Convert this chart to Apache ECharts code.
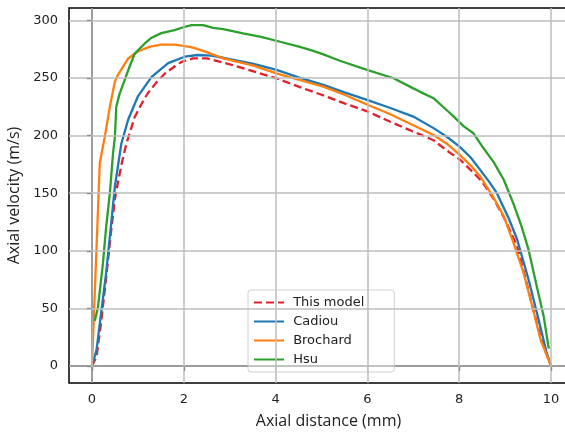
<!DOCTYPE html>
<html>
<head>
<meta charset="utf-8">
<script src="https://cdn.jsdelivr.net/npm/echarts@6/dist/echarts.min.js"></script>
<style>
  html, body { margin: 0; padding: 0; background: #fff; }
  #chart { width: 565px; height: 432px; }
</style>
</head>
<body>
<div id="chart"></div>
<script>
// Axial velocity profiles along the axis for four models.
const xTicks = [0, 2, 4, 6, 8, 10];
const yTicks = [0, 50, 100, 150, 200, 250, 300];

const modelX = [0, 0.1, 0.2, 0.28, 0.42, 0.5, 0.57, 0.66, 0.75, 0.93, 1.1, 1.22, 1.4, 1.59, 1.8, 1.95, 2.2, 2.5, 2.8, 3.08, 3.5, 4.0, 4.5, 5.0, 5.5, 6.0, 6.5, 7.0, 7.44, 7.73, 8.02, 8.28, 8.5, 8.75, 9.0, 9.26, 9.43, 9.6, 9.8, 10];
const modelV = [0, 8, 38, 66, 118, 145, 160, 178, 193, 216, 229, 237, 246, 254, 260, 264, 267, 267, 264, 261, 256, 250, 242.5, 235.5, 228, 221, 212, 203.5, 196, 187, 179, 169, 160, 145, 127, 104, 78, 51, 21, 0];

const cadiouX = [0, 0.02, 0.1, 0.2, 0.31, 0.42, 0.5, 0.64, 0.79, 1.0, 1.3, 1.66, 2.02, 2.3, 2.6, 2.86, 3.5, 4.02, 4.5, 5.04, 5.5, 5.99, 6.5, 7.0, 7.44, 7.73, 8.02, 8.25, 8.46, 8.65, 8.82, 9.08, 9.26, 9.51, 9.73, 9.9, 10];
const cadiouV = [0, 1, 14, 46, 81, 124, 156, 193, 214, 234, 251, 263, 268.5, 270, 269.5, 267.6, 262.5, 257, 250.5, 244, 237.5, 231, 224, 216.5, 206.5, 199, 190, 181, 170, 160, 150, 128, 110, 75, 40, 12, 0];

const brochardX = [0, 0.15, 0.17, 0.28, 0.39, 0.5, 0.57, 0.79, 1.0, 1.25, 1.51, 1.8, 2.13, 2.24, 2.5, 2.86, 3.5, 4.02, 4.5, 5.04, 5.5, 5.99, 6.5, 7.0, 7.44, 7.73, 8.02, 8.25, 8.46, 8.75, 8.97, 9.18, 9.4, 9.59, 9.77, 10];
const brochardV = [0, 155, 176, 199, 225, 247, 253, 267, 273, 277, 279, 279, 277, 276, 272.5, 267, 261, 254, 248.5, 242.5, 235.5, 227, 218.5, 209, 200.5, 193, 183, 174, 164.5, 146, 130, 107, 81, 52, 23, 0];

const hsuX = [0.06, 0.13, 0.24, 0.31, 0.39, 0.46, 0.5, 0.53, 0.6, 0.71, 0.82, 0.93, 1.05, 1.15, 1.3, 1.51, 1.8, 2.02, 2.17, 2.42, 2.64, 2.86, 3.29, 3.66, 4.1, 4.53, 4.82, 5.04, 5.4, 5.99, 6.57, 7.0, 7.15, 7.44, 7.73, 7.88, 8.1, 8.31, 8.53, 8.75, 8.97, 9.18, 9.35, 9.51, 9.69, 9.84, 9.95];
const hsuV = [39, 50.5, 89.5, 121, 150, 185, 199, 225, 236, 248, 260, 271, 276, 280, 285, 289, 291.6, 294.5, 296, 296, 293.6, 292.5, 288.7, 286, 281.5, 277, 273.5, 270.5, 265, 257, 249.8, 241, 238, 232.5, 222, 216.5, 208, 202, 189, 177, 161.7, 141, 122, 101, 69, 43, 15];

const zip = (xs, ys) => xs.map((x, i) => [x, ys[i]]);

const tickFont = { fontFamily: 'DejaVu Sans', fontSize: 13, color: '#222' };
const titleFont = { fontFamily: 'Open Sans', fontSize: 16, color: '#222' };

function lineSeries(name, data, color, dashed) {
  return {
    name: name,
    type: 'line',
    data: data,
    symbol: 'none',
    smooth: false,
    clip: true,
    z: 3,
    lineStyle: { color: color, width: 2.3, type: dashed ? [8, 4] : 'solid' },
    itemStyle: { color: color }
  };
}

// Grid lines at the tick positions, drawn beneath the curves.
const gridSeries = {
  name: 'grid',
  type: 'line',
  data: [],
  z: 1,
  silent: true,
  markLine: {
    silent: true,
    symbol: 'none',
    animation: false,
    label: { show: false },
    lineStyle: { color: '#bcbcbc', width: 1.5, type: 'solid', cap: 'butt' },
    data: xTicks.map(v => ({ xAxis: v })).concat(yTicks.map(v => ({ yAxis: v })))
  }
};

const chart = echarts.init(document.getElementById('chart'), null, { renderer: 'canvas' });
chart.setOption({
  animation: false,
  backgroundColor: '#fff',
  grid: {
    left: 69, top: 8, width: 505, height: 375, containLabel: false,
    outerBoundsMode: 'none',
    show: true, borderColor: '#000', borderWidth: 1.5, backgroundColor: 'transparent'
  },
  xAxis: {
    type: 'value', min: -0.5, max: 10.5,
    name: 'Axial distance (mm)', nameLocation: 'middle', nameGap: 30,
    nameTextStyle: Object.assign({ padding: [0, 0, 0, 14] }, titleFont),
    axisLine: { show: true, lineStyle: { color: '#000', width: 1.5 } },
    axisTick: { show: true, inside: false, length: 5, customValues: xTicks, lineStyle: { color: '#000', width: 1.2 } },
    axisLabel: Object.assign({ margin: 10, customValues: xTicks }, tickFont),
    splitLine: { show: false }
  },
  yAxis: {
    type: 'value', min: -14.8, max: 310.8,
    name: 'Axial velocity (m/s)', nameLocation: 'middle', nameGap: 42,
    nameTextStyle: titleFont,
    axisLine: { show: true, lineStyle: { color: '#000', width: 1.5 } },
    axisTick: { show: true, inside: false, length: 5, customValues: yTicks, lineStyle: { color: '#000', width: 1.2 } },
    axisLabel: Object.assign({ margin: 11, customValues: yTicks }, tickFont),
    splitLine: { show: false }
  },
  legend: {
    orient: 'vertical',
    left: 248, top: 290,
    padding: [6, 30, 6, 5],
    itemWidth: 30, itemHeight: 14, itemGap: 6,
    backgroundColor: 'rgba(255,255,255,0.8)',
    borderColor: '#d0d0d0', borderWidth: 1, borderRadius: 3,
    itemStyle: { opacity: 0 },
    formatter: name => ' ' + name,
    textStyle: { fontFamily: 'DejaVu Sans', fontSize: 13, color: '#222', overflow: 'none' },
    data: ['This model', 'Cadiou', 'Brochard', 'Hsu']
  },
  series: [
    gridSeries,
    lineSeries('This model', zip(modelX, modelV), '#e3202a', true),
    lineSeries('Cadiou', zip(cadiouX, cadiouV), '#1f77b4', false),
    lineSeries('Brochard', zip(brochardX, brochardV), '#ff7f0e', false),
    lineSeries('Hsu', zip(hsuX, hsuV), '#2ca02c', false)
  ]
});
</script>
</body>
</html>
